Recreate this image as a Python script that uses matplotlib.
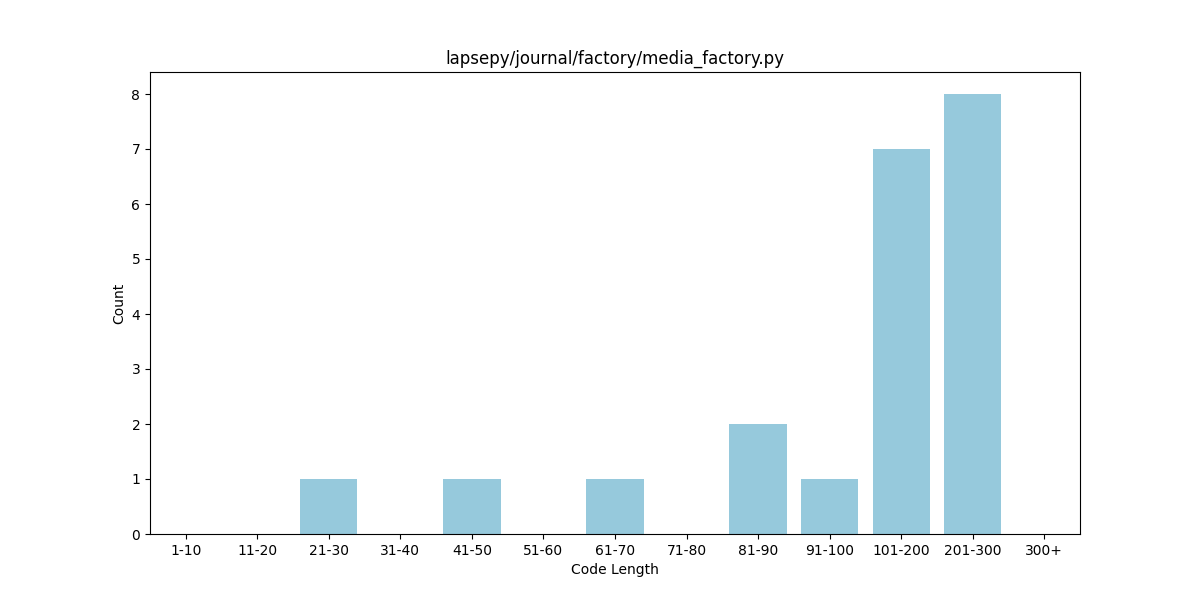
import matplotlib
matplotlib.use("Agg")
import matplotlib.pyplot as plt

categories = ["1-10", "11-20", "21-30", "31-40", "41-50", "51-60", "61-70",
              "71-80", "81-90", "91-100", "101-200", "201-300", "300+"]
counts = [0, 0, 1, 0, 1, 0, 1, 0, 2, 1, 7, 8, 0]

fig, ax = plt.subplots(figsize=(12, 6), dpi=100)
ax.bar(categories, counts, color="#96C9DC", width=0.8)
ax.set_xlim(-0.5, len(categories) - 0.5)
ax.set_title("lapsepy/journal/factory/media_factory.py")
ax.set_xlabel("Code Length")
ax.set_ylabel("Count")
fig.savefig("out.png", dpi=100)
